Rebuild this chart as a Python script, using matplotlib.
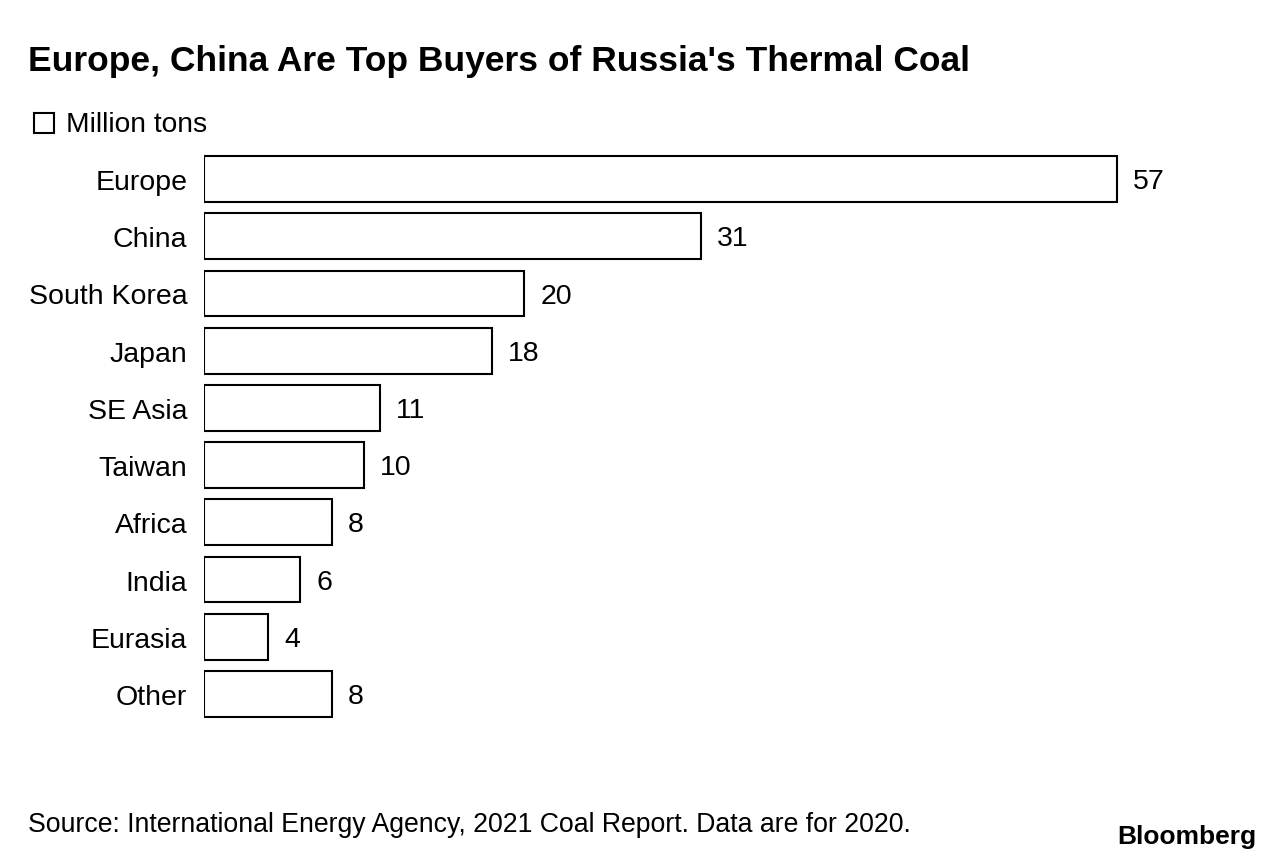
import matplotlib.pyplot as plt
from matplotlib.patches import Rectangle

# data
regions = ['Europe', 'China', 'South Korea', 'Japan', 'SE Asia', 'Taiwan',
           'Africa', 'India', 'Eurasia', 'Other']
tons = [57, 31, 20, 18, 11, 10, 8, 6, 4, 8]

plt.rcParams['font.family'] = ['Liberation Sans', 'DejaVu Sans']

W, H = 1284, 862
fig = plt.figure(figsize=(W / 100, H / 100), dpi=100)

# axes placed so that bar scale matches the reference
ax = fig.add_axes([204 / W, 1 - 723.6 / H, 1000 / W, 572.2 / H])
ax.barh(range(len(regions)), tons, height=0.8, color='white',
        edgecolor='black', linewidth=1.5)
ax.set_xlim(0, 1000 / 16.02)
ax.set_ylim(9.5, -0.5)
ax.set_yticks(range(len(regions)))
ax.set_yticklabels(regions, fontsize=20.5)
ax.tick_params(axis='y', length=0, pad=12)
ax.set_xticks([])
for s in ax.spines.values():
    s.set_visible(False)

for i, v in enumerate(tons):
    ax.annotate(str(v), (v, i), xytext=(11.5, -1.5), textcoords='offset points',
                va='center', ha='left', fontsize=20.5)

# title, legend, source, logo
fig.text(28 / W, 1 - 62 / H, "Europe, China Are Top Buyers of Russia's Thermal Coal",
         fontsize=25.5, fontweight='bold', va='center', ha='left')
fig.patches.append(Rectangle((34 / W, 1 - 134 / H), 20 / W, 20 / H,
                             transform=fig.transFigure, facecolor='white',
                             edgecolor='black', linewidth=1.5))
fig.text(66 / W, 1 - 125 / H, 'Million tons', fontsize=20.3, va='center', ha='left')
fig.text(28 / W, 1 - 825 / H,
         'Source: International Energy Agency, 2021 Coal Report. Data are for 2020.',
         fontsize=19.2, va='center', ha='left')
fig.text(1256 / W, 1 - 837 / H, 'Bloomberg', fontsize=19, fontweight='bold',
         va='center', ha='right')

fig.savefig('out.png', dpi=100, facecolor='white')
